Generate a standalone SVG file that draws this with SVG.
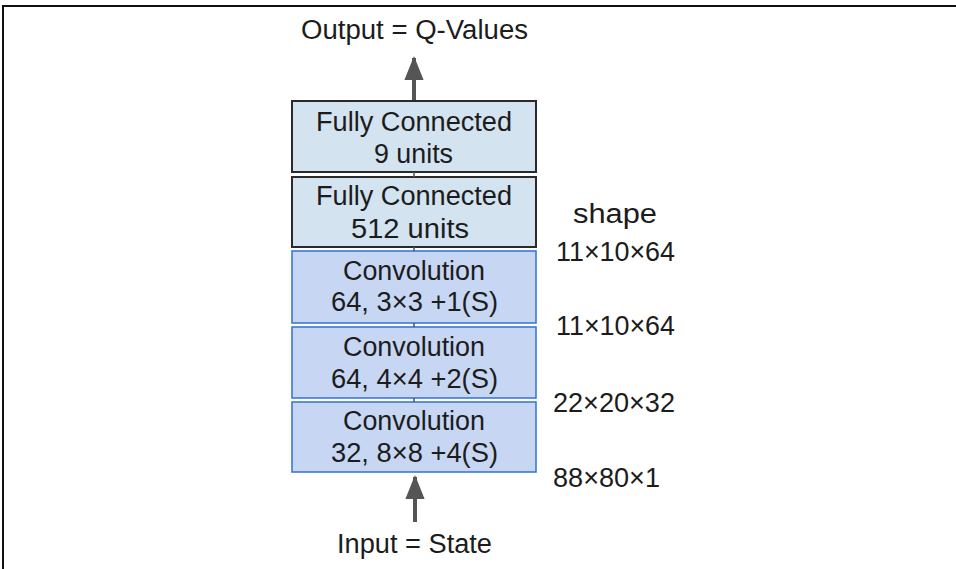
<svg xmlns="http://www.w3.org/2000/svg" width="956" height="569" viewBox="0 0 956 569">
<defs>
<style>
.t{font-family:"Liberation Sans",Arial,sans-serif;font-size:27px;fill:#1c1c1c;text-anchor:middle}
.s{font-family:"Liberation Sans",Arial,sans-serif;font-size:27px;fill:#1c1c1c;text-anchor:start}
.fc{fill:#d3e3f0;stroke:#2a2a2a;stroke-width:2}
.cv{fill:#c7d7f3;stroke:#3a78d6;stroke-width:1.6}
.arr{stroke:#555;stroke-width:4;fill:none}
.tick{stroke:#555;stroke-width:1.5}
</style>
<marker id="ah" markerWidth="6" markerHeight="4.8" refX="5.5" refY="2.4" orient="auto" markerUnits="strokeWidth">
<path d="M0,0 L6,2.4 L0,4.8 Z" fill="#555"/>
</marker>
</defs>
<rect width="956" height="569" fill="#fff"/>
<path d="M3,569 V6 H956" fill="none" stroke="#111" stroke-width="2"/>

<g id="output">
<text class="t" x="414.5" y="39" textLength="227" lengthAdjust="spacingAndGlyphs">Output = Q-Values</text>
</g>

<g id="fc9">
<rect class="fc" x="292" y="101" width="244" height="71"/>
<text class="t" x="414" y="131" textLength="196" lengthAdjust="spacingAndGlyphs">Fully Connected</text>
<text class="t" x="413.5" y="163" textLength="79" lengthAdjust="spacingAndGlyphs">9 units</text>
</g>

<g id="fc512">
<rect class="fc" x="292" y="177" width="244" height="70"/>
<text class="t" x="414" y="205" textLength="196" lengthAdjust="spacingAndGlyphs">Fully Connected</text>
<text class="t" x="410" y="238" textLength="118" lengthAdjust="spacingAndGlyphs">512 units</text>
</g>

<g id="conv3">
<rect class="cv" x="292" y="251" width="244" height="72"/>
<text class="t" x="414" y="280" textLength="142" lengthAdjust="spacingAndGlyphs">Convolution</text>
<text class="t" x="414.5" y="311" textLength="167" lengthAdjust="spacingAndGlyphs">64, 3×3 +1(S)</text>
</g>

<g id="conv2">
<rect class="cv" x="292" y="327" width="244" height="71"/>
<text class="t" x="414" y="356" textLength="142" lengthAdjust="spacingAndGlyphs">Convolution</text>
<text class="t" x="414.5" y="388" textLength="167" lengthAdjust="spacingAndGlyphs">64, 4×4 +2(S)</text>
</g>

<g id="conv1">
<rect class="cv" x="292" y="402" width="244" height="70"/>
<text class="t" x="414" y="430" textLength="142" lengthAdjust="spacingAndGlyphs">Convolution</text>
<text class="t" x="414.5" y="462" textLength="167" lengthAdjust="spacingAndGlyphs">32, 8×8 +4(S)</text>
</g>

<g id="input">
<text class="t" x="414.5" y="553" textLength="155" lengthAdjust="spacingAndGlyphs">Input = State</text>
</g>

<g id="shapes">
<text class="s" x="573" y="223" textLength="84" lengthAdjust="spacingAndGlyphs">shape</text>
<text class="s" x="556" y="261" textLength="119" lengthAdjust="spacingAndGlyphs">11×10×64</text>
<text class="s" x="556" y="335" textLength="119" lengthAdjust="spacingAndGlyphs">11×10×64</text>
<text class="s" x="553" y="412" textLength="122" lengthAdjust="spacingAndGlyphs">22×20×32</text>
<text class="s" x="553" y="487" textLength="107" lengthAdjust="spacingAndGlyphs">88×80×1</text>
</g>

<g id="connectors">
<line class="arr" x1="414" y1="100" x2="414" y2="58" marker-end="url(#ah)"/>
<line class="arr" x1="415" y1="522" x2="415" y2="477" marker-end="url(#ah)"/>
<line class="tick" x1="414" y1="172" x2="414" y2="177"/>
<line class="tick" x1="414" y1="247" x2="414" y2="251"/>
<line class="tick" x1="414" y1="323" x2="414" y2="327"/>
<line class="tick" x1="414" y1="398" x2="414" y2="402"/>
</g>
</svg>
